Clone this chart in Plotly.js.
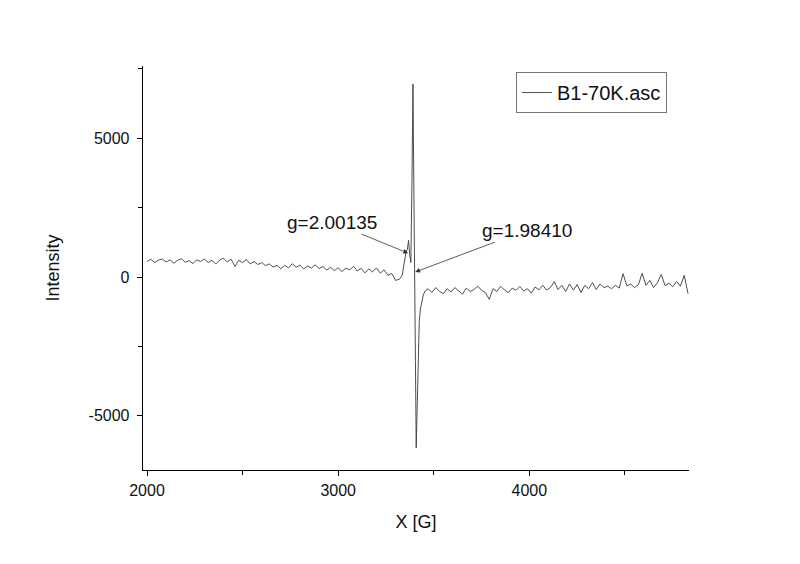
<!DOCTYPE html>
<html>
<head>
<meta charset="utf-8">
<script src="https://cdn.plot.ly/plotly-3.0.1.min.js"></script>
<style>html,body{margin:0;padding:0;background:#fff;}#chart{width:800px;height:564px;}</style>
</head>
<body>
<div id="chart"></div>
<script>
// EPR spectrum, field in Gauss
const fieldLeft = [2000,2020,2040,2060,2080,2100,2120,2140,2160,2180,2200,2220,2240,2260,2280,2300,2320,2340,2360,2380,
  2400,2420,2440,2460,2480,2500,2520,2540,2560,2580,2600,2620,2640,2660,2680,2700,2720,2740,2760,2780,
  2800,2820,2840,2860,2880,2900,2920,2940,2960,2980,3000,3020,3040,3060,3080,3100,3120,3140,3160,3180,
  3200,3220,3240,3260,3280,3300,3320];
const intensityLeft = [560,640,520,610,650,540,620,500,600,660,530,590,480,620,560,650,520,600,470,610,
  680,540,640,380,600,520,630,470,560,450,520,410,470,360,420,300,420,330,480,350,
  430,290,400,320,440,300,380,250,350,230,330,200,320,260,380,220,310,150,290,180,
  330,140,260,60,130,-120,-80];

const fieldPeak = [3335,3345,3355,3362,3368,3374,3380,3386,3391,3396,3401,3404,3408,3413,3418,3424,3430,3437,3445,3455];
const intensityPeak = [60,500,900,1000,1320,800,520,3500,6950,3000,180,-3000,-6150,-4500,-2600,-1600,-1150,-850,-650,-500];

const fieldRight = [3470,3490,3510,3530,3550,3570,3590,3610,3630,3650,3670,3690,3710,3730,3750,3770,3790,3810,3830,3850,
  3870,3890,3910,3930,3950,3970,3990,4010,4030,4050,4070,4090,4110,4130,4150,4170,4190,4210,4230,4250,
  4270,4290,4310,4330,4350,4370,4390,4410,4430,4450,4470,4490,4510,4530,4550,4570,4590,4610,4630,4650,
  4670,4690,4710,4730,4750,4770,4790,4810,4830];
const intensityRight = [-420,-560,-380,-520,-600,-420,-540,-380,-500,-620,-400,-520,-450,-330,-480,-560,-800,-420,-520,-330,
  -470,-560,-400,-480,-340,-500,-420,-580,-360,-460,-300,-470,-380,-170,-450,-300,-520,-250,-470,-270,
  -560,-300,-420,-200,-450,-250,-380,-330,-420,-300,-400,120,-320,-250,-380,-280,130,-300,-120,-380,
  -200,90,-310,-220,-350,-160,-330,60,-600];

const seriesName = 'B1-70K.asc';
const yTickVals = [-5000, 0, 5000];
const yTickText = ['-5000', '0', '5000'];
const xTickVals = [2000, 3000, 4000];
const xTickText = ['2000', '3000', '4000'];

// annotated g-values
const gLabels = ['g=2.00135', 'g=1.98410'];
const gTipField = [3366, 3403];
const gTipIntensity = [860, 180];
const gTextField = [2968, 3987];
const gTextIntensity = [1980, 1690];

const x = fieldLeft.concat(fieldPeak, fieldRight);
const y = intensityLeft.concat(intensityPeak, intensityRight);

const font = 'Arial, "Liberation Sans", sans-serif';

const trace = {
  x: x, y: y, type: 'scatter', mode: 'lines', name: seriesName,
  line: {color: '#3a3a3a', width: 0.9}, showlegend: true
};

const annotations = gLabels.map((t, i) => ({
  x: gTipField[i], y: gTipIntensity[i], xref: 'x', yref: 'y',
  ax: gTextField[i], ay: gTextIntensity[i], axref: 'x', ayref: 'y',
  text: t, showarrow: true, arrowhead: 2, arrowsize: 1.2, arrowwidth: 0.8,
  arrowcolor: '#333', font: {family: font, size: 19, color: '#111'}
}));

const layout = {
  width: 800, height: 564,
  margin: {l: 143, r: 111, t: 66, b: 94},
  paper_bgcolor: '#fff', plot_bgcolor: '#fff',
  font: {family: font, color: '#111'},
  showlegend: true,
  legend: {
    x: 0.683, y: 0.985, xanchor: 'left', yanchor: 'top',
    bordercolor: '#777', borderwidth: 1, bgcolor: '#fff',
    font: {family: font, size: 20, color: '#111'},
    itemwidth: 30, tracegroupgap: 0
  },
  xaxis: {
    range: [1979, 4835], showgrid: false, zeroline: false,
    showline: true, linecolor: '#000', linewidth: 1.3, mirror: false,
    ticks: 'outside', ticklen: 5, tickwidth: 1, tickcolor: '#000',
    tickmode: 'array', tickvals: xTickVals, ticktext: xTickText,
    minor: {dtick: 500, tick0: 0, ticklen: 4, tickwidth: 1, tickcolor: '#000', ticks: 'outside', showgrid: false},
    tickfont: {family: font, size: 16, color: '#111'},
    title: {text: 'X [G]', font: {family: font, size: 18, color: '#111'}, standoff: 18}
  },
  yaxis: {
    range: [-6950, 7600], showgrid: false, zeroline: false,
    showline: true, linecolor: '#000', linewidth: 1.3, mirror: false,
    ticks: 'outside', ticklen: 5, tickwidth: 1, tickcolor: '#000',
    tickmode: 'array', tickvals: yTickVals, ticktext: yTickText,
    minor: {dtick: 2500, tick0: 0, ticklen: 4, tickwidth: 1, tickcolor: '#000', ticks: 'outside', showgrid: false},
    tickfont: {family: font, size: 16, color: '#111'},
    ticklabelstandoff: 4,
    title: {text: 'Intensity', font: {family: font, size: 18, color: '#111'}, standoff: 24}
  },
  annotations: annotations
};

Plotly.newPlot('chart', [trace], layout, {staticPlot: true, displayModeBar: false});
</script>
</body>
</html>
